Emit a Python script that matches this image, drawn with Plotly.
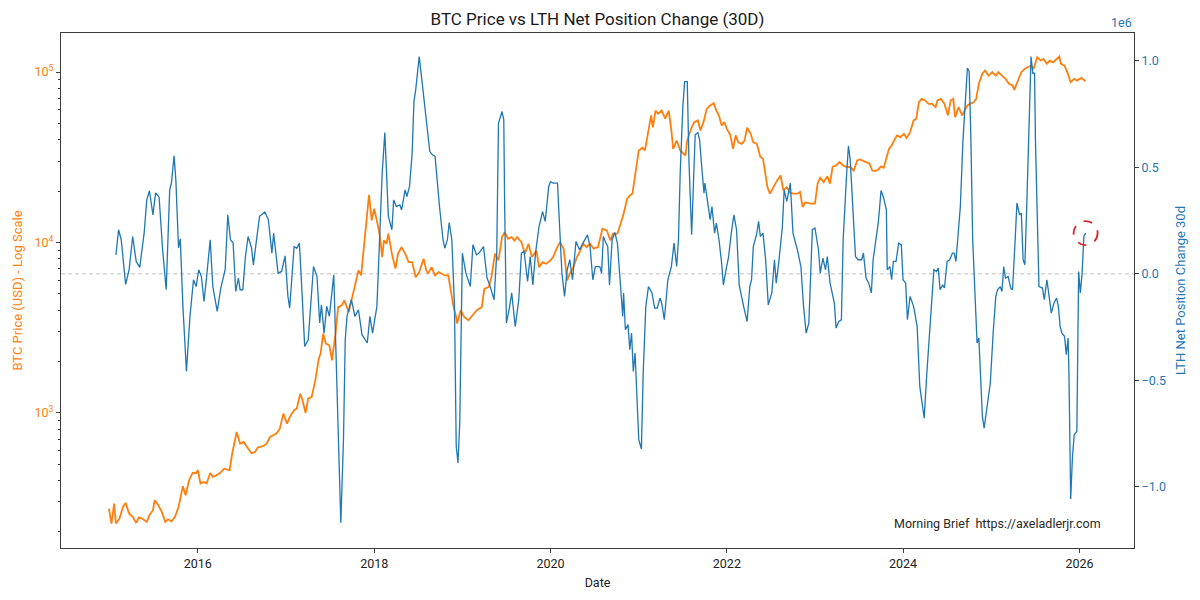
import plotly.graph_objects as go
import pandas as pd

# BTC price (USD); dates as decimal years
btc_years = [
    2014.99, 2015.02, 2015.05, 2015.07, 2015.11, 2015.15, 2015.18, 2015.22, 2015.26, 2015.30,
    2015.33, 2015.37, 2015.42, 2015.45, 2015.49, 2015.51, 2015.55, 2015.59, 2015.63, 2015.66,
    2015.70, 2015.74, 2015.78, 2015.81, 2015.83, 2015.86, 2015.90, 2015.94, 2015.98, 2016.00,
    2016.03, 2016.07, 2016.10, 2016.14, 2016.17, 2016.21, 2016.25, 2016.30, 2016.34, 2016.36,
    2016.39, 2016.44, 2016.48, 2016.52, 2016.57, 2016.61, 2016.65, 2016.68, 2016.74, 2016.78,
    2016.82, 2016.85, 2016.89, 2016.93, 2016.97, 2017.01, 2017.04, 2017.09, 2017.12, 2017.16,
    2017.18, 2017.22, 2017.25, 2017.29, 2017.33, 2017.37, 2017.39, 2017.42, 2017.45, 2017.49,
    2017.52, 2017.56, 2017.59, 2017.63, 2017.66, 2017.71, 2017.74, 2017.78, 2017.82, 2017.85,
    2017.88, 2017.91, 2017.94, 2017.97, 2018.00, 2018.04, 2018.06, 2018.09, 2018.11, 2018.14,
    2018.16, 2018.20, 2018.24, 2018.27, 2018.31, 2018.35, 2018.39, 2018.43, 2018.47, 2018.51,
    2018.56, 2018.59, 2018.61, 2018.65, 2018.69, 2018.73, 2018.77, 2018.80, 2018.84, 2018.87,
    2018.90, 2018.93, 2018.94, 2018.98, 2019.02, 2019.07, 2019.11, 2019.16, 2019.22, 2019.25,
    2019.30, 2019.33, 2019.37, 2019.41, 2019.45, 2019.48, 2019.52, 2019.56, 2019.59, 2019.62,
    2019.67, 2019.71, 2019.75, 2019.79, 2019.84, 2019.87, 2019.91, 2019.95, 2020.00, 2020.03,
    2020.07, 2020.11, 2020.15, 2020.19, 2020.22, 2020.26, 2020.30, 2020.34, 2020.37, 2020.41,
    2020.45, 2020.49, 2020.54, 2020.59, 2020.64, 2020.68, 2020.71, 2020.76, 2020.79, 2020.83,
    2020.87, 2020.90, 2020.93, 2020.96, 2021.00, 2021.04, 2021.07, 2021.11, 2021.14, 2021.16,
    2021.19, 2021.22, 2021.26, 2021.30, 2021.34, 2021.37, 2021.39, 2021.43, 2021.47, 2021.53,
    2021.55, 2021.60, 2021.63, 2021.67, 2021.70, 2021.74, 2021.77, 2021.81, 2021.85, 2021.88,
    2021.91, 2021.94, 2021.97, 2022.00, 2022.04, 2022.07, 2022.10, 2022.13, 2022.17, 2022.20,
    2022.23, 2022.27, 2022.30, 2022.34, 2022.38, 2022.41, 2022.44, 2022.46, 2022.49, 2022.53,
    2022.57, 2022.61, 2022.64, 2022.68, 2022.72, 2022.76, 2022.80, 2022.83, 2022.86, 2022.89,
    2022.95, 2023.00, 2023.03, 2023.06, 2023.10, 2023.14, 2023.17, 2023.20, 2023.24, 2023.28,
    2023.32, 2023.36, 2023.40, 2023.44, 2023.48, 2023.51, 2023.57, 2023.62, 2023.65, 2023.68,
    2023.72, 2023.75, 2023.78, 2023.81, 2023.84, 2023.87, 2023.90, 2023.93, 2023.97, 2024.01,
    2024.04, 2024.08, 2024.12, 2024.15, 2024.18, 2024.21, 2024.25, 2024.29, 2024.33, 2024.37,
    2024.39, 2024.43, 2024.47, 2024.51, 2024.54, 2024.57, 2024.59, 2024.63, 2024.67, 2024.73,
    2024.76, 2024.80, 2024.83, 2024.86, 2024.90, 2024.93, 2024.97, 2025.01, 2025.05, 2025.08,
    2025.12, 2025.16, 2025.20, 2025.24, 2025.26, 2025.30, 2025.34, 2025.38, 2025.41, 2025.45,
    2025.48, 2025.52, 2025.56, 2025.59, 2025.63, 2025.66, 2025.70, 2025.74, 2025.77, 2025.79,
    2025.83, 2025.86, 2025.90, 2025.94, 2025.97, 2026.02, 2026.07,
]
btc_price = [
    274, 224, 293, 224, 239, 280, 296, 256, 245, 226,
    243, 239, 229, 251, 268, 307, 287, 262, 229, 237,
    231, 245, 280, 336, 371, 328, 402, 444, 443, 460,
    385, 393, 385, 443, 421, 430, 443, 471, 465, 460,
    577, 771, 659, 674, 617, 577, 590, 626, 637, 659,
    721, 738, 755, 807, 989, 864, 944, 1035, 1058, 1295,
    1211, 998, 1211, 1240, 1550, 2078, 2225, 2913, 2545, 2490,
    2030, 2913, 4170, 4270, 4570, 3900, 4570, 5470, 6850, 6400,
    9380, 14070, 19040, 13460, 15770, 12580, 11250, 8200, 10270, 9830,
    11250, 8590, 7020, 8590, 9380, 8590, 7660, 7660, 6250, 6700,
    8020, 6850, 6560, 7160, 6400, 6700, 6560, 6400, 6400, 5000,
    4170, 3650, 3340, 3990, 3650, 3490, 3730, 3990, 4170, 5350,
    5470, 6250, 8590, 7840, 10740, 11490, 10510, 10740, 10270, 10740,
    10040, 8590, 9830, 8200, 8980, 7160, 7660, 7500, 7840, 8200,
    9190, 10040, 9190, 5990, 6560, 7160, 8200, 8980, 9830, 9380,
    9830, 9190, 9380, 12030, 11760, 10270, 11250, 11250, 12580, 14740,
    18030, 18870, 19320, 25290, 34660, 35920, 34660, 45400, 55600, 47400,
    59400, 56900, 59400, 53200, 59400, 45400, 35400, 39600, 34660, 32370,
    39600, 47400, 50800, 52000, 45400, 52000, 60800, 63700, 65600, 59400,
    55600, 48500, 50800, 46400, 42500, 35400, 42500, 38700, 37900, 39600,
    47100, 43400, 38700, 37900, 31700, 31000, 25290, 21100, 19320, 21100,
    23100, 24700, 20200, 21100, 19500, 19320, 19320, 19770, 16100, 17200,
    16870, 16870, 22100, 24000, 22600, 24400, 22100, 27700, 28300, 29600,
    28300, 27700, 27700, 26400, 30300, 30700, 29900, 29000, 26400, 26200,
    26800, 27900, 27400, 31000, 35400, 37100, 39600, 42500, 41500, 43400,
    41000, 44400, 52000, 53200, 66500, 69600, 68100, 65000, 65000, 62200,
    68100, 69600, 65000, 55600, 68100, 69600, 54300, 62200, 55600, 63700,
    65000, 66500, 69600, 85300, 97800, 102000, 95300, 99800, 95300, 99800,
    95300, 91200, 85300, 83400, 78600, 89100, 99800, 104500, 106700, 109100,
    104500, 122200, 116700, 119400, 111700, 116700, 114000, 119400, 123300, 111700,
    109100, 99800, 87100, 91200, 89100, 92400, 88300,
]

# LTH net position change, 30d (millions of BTC)
lth_years = [
    2015.07, 2015.10, 2015.13, 2015.18, 2015.22, 2015.26, 2015.30, 2015.34, 2015.39, 2015.42,
    2015.45, 2015.49, 2015.52, 2015.56, 2015.60, 2015.64, 2015.68, 2015.70, 2015.73, 2015.75,
    2015.78, 2015.80, 2015.83, 2015.87, 2015.91, 2015.95, 2015.98, 2016.01, 2016.04, 2016.07,
    2016.10, 2016.14, 2016.17, 2016.22, 2016.26, 2016.31, 2016.34, 2016.37, 2016.40, 2016.43,
    2016.46, 2016.48, 2016.51, 2016.54, 2016.57, 2016.61, 2016.63, 2016.67, 2016.70, 2016.76,
    2016.80, 2016.84, 2016.86, 2016.91, 2016.95, 2016.99, 2017.02, 2017.04, 2017.09, 2017.12,
    2017.15, 2017.18, 2017.21, 2017.25, 2017.31, 2017.35, 2017.38, 2017.40, 2017.43, 2017.46,
    2017.49, 2017.54, 2017.57, 2017.60, 2017.62, 2017.65, 2017.67, 2017.69, 2017.74, 2017.78,
    2017.82, 2017.86, 2017.92, 2017.95, 2017.98, 2018.03, 2018.06, 2018.09, 2018.12, 2018.14,
    2018.16, 2018.20, 2018.22, 2018.25, 2018.29, 2018.31, 2018.35, 2018.37, 2018.40, 2018.43,
    2018.45, 2018.47, 2018.51, 2018.54, 2018.59, 2018.63, 2018.66, 2018.69, 2018.74, 2018.78,
    2018.80, 2018.83, 2018.85, 2018.88, 2018.91, 2018.93, 2018.95, 2018.97, 2019.00, 2019.04,
    2019.09, 2019.12, 2019.16, 2019.19, 2019.24, 2019.28, 2019.31, 2019.36, 2019.39, 2019.41,
    2019.45, 2019.47, 2019.48, 2019.50, 2019.53, 2019.56, 2019.60, 2019.64, 2019.67, 2019.70,
    2019.74, 2019.77, 2019.80, 2019.83, 2019.87, 2019.91, 2019.94, 2019.98, 2020.00, 2020.03,
    2020.08, 2020.11, 2020.13, 2020.16, 2020.19, 2020.22, 2020.25, 2020.29, 2020.33, 2020.37,
    2020.42, 2020.45, 2020.48, 2020.51, 2020.56, 2020.58, 2020.60, 2020.63, 2020.65, 2020.67,
    2020.70, 2020.73, 2020.76, 2020.79, 2020.82, 2020.83, 2020.85, 2020.88, 2020.90, 2020.92,
    2020.94, 2020.96, 2020.99, 2021.00, 2021.03, 2021.05, 2021.08, 2021.11, 2021.15, 2021.18,
    2021.21, 2021.24, 2021.26, 2021.29, 2021.33, 2021.37, 2021.40, 2021.43, 2021.45, 2021.47,
    2021.50, 2021.52, 2021.55, 2021.57, 2021.60, 2021.62, 2021.64, 2021.67, 2021.69, 2021.72,
    2021.74, 2021.75, 2021.78, 2021.81, 2021.83, 2021.86, 2021.88, 2021.91, 2021.94, 2021.96,
    2021.99, 2022.02, 2022.05, 2022.08, 2022.11, 2022.14, 2022.19, 2022.23, 2022.26, 2022.28,
    2022.30, 2022.34, 2022.36, 2022.38, 2022.41, 2022.44, 2022.47, 2022.51, 2022.54, 2022.56,
    2022.59, 2022.63, 2022.65, 2022.68, 2022.72, 2022.75, 2022.80, 2022.84, 2022.87, 2022.90,
    2022.93, 2022.97, 2023.00, 2023.04, 2023.06, 2023.09, 2023.12, 2023.14, 2023.17, 2023.22,
    2023.24, 2023.27, 2023.30, 2023.32, 2023.36, 2023.38, 2023.40, 2023.43, 2023.46, 2023.49,
    2023.53, 2023.55, 2023.58, 2023.61, 2023.64, 2023.66, 2023.68, 2023.72, 2023.75, 2023.78,
    2023.81, 2023.82, 2023.85, 2023.87, 2023.89, 2023.92, 2023.95, 2023.98, 2024.00, 2024.03,
    2024.05, 2024.08, 2024.12, 2024.16, 2024.19, 2024.21, 2024.24, 2024.27, 2024.30, 2024.33,
    2024.35, 2024.38, 2024.40, 2024.42, 2024.45, 2024.47, 2024.50, 2024.53, 2024.56, 2024.58,
    2024.60, 2024.62, 2024.65, 2024.68, 2024.71, 2024.73, 2024.75, 2024.77, 2024.79, 2024.82,
    2024.84, 2024.86, 2024.88, 2024.90, 2024.92, 2024.95, 2024.99, 2025.02, 2025.05, 2025.07,
    2025.10, 2025.12, 2025.14, 2025.16, 2025.19, 2025.22, 2025.24, 2025.27, 2025.29, 2025.32,
    2025.34, 2025.36, 2025.38, 2025.40, 2025.41, 2025.44, 2025.45, 2025.47, 2025.49, 2025.50,
    2025.52, 2025.54, 2025.58, 2025.60, 2025.63, 2025.65, 2025.68, 2025.71, 2025.74, 2025.76,
    2025.78, 2025.80, 2025.83, 2025.85, 2025.87, 2025.88, 2025.89, 2025.90, 2025.92, 2025.94,
    2025.97, 2025.98, 2025.99, 2026.01, 2026.03, 2026.05, 2026.07,
]
lth_change_m = [
    0.089, 0.207, 0.16, -0.05, 0.02, 0.175, 0.058, 0.03, 0.19, 0.347,
    0.39, 0.277, 0.38, 0.36, 0.113, -0.075, 0.394, 0.427, 0.554, 0.44,
    0.122, 0.164, -0.153, -0.459, -0.2, -0.028, -0.06, 0.019, -0.012, -0.13,
    -0.012, 0.16, -0.06, -0.177, -0.067, 0.019, 0.277, 0.16, 0.146, -0.083,
    -0.02, -0.075, -0.075, 0.081, 0.175, 0.12, 0.042, 0.16, 0.27, 0.29,
    0.254, 0.097, 0.19, 0.003, 0.011, 0.084, -0.106, -0.161, 0.128, 0.12,
    0.144, -0.09, -0.341, -0.31, 0.034, -0.013, -0.231, -0.146, -0.279, -0.153,
    -0.2, -0.005, -0.466, -0.936, -1.17, -0.78, -0.31, -0.2, -0.122, -0.2,
    -0.169, -0.286, -0.325, -0.2, -0.279, -0.153, 0.16, 0.473, 0.663, 0.473,
    0.27, 0.207, 0.347, 0.316, 0.324, 0.3, 0.394, 0.363, 0.41, 0.567,
    0.809, 0.864, 1.02, 0.911, 0.739, 0.574, 0.559, 0.551, 0.316, 0.16,
    0.12, 0.16, 0.241, 0.16, -0.153, -0.811, -0.889, -0.7, 0.097, 0.003,
    -0.06, 0.136, 0.089, 0.097, 0.128, -0.02, -0.052, -0.122, 0.097, 0.708,
    0.762, 0.723, 0.316, -0.231, -0.169, -0.09, -0.247, -0.122, 0.097, 0.105,
    -0.036, 0.081, -0.052, 0.097, 0.222, 0.292, 0.246, 0.41, 0.433, 0.426,
    0.426, 0.144, 0.003, -0.106, 0.019, 0.066, -0.028, 0.152, 0.113, 0.144,
    0.183, 0.128, -0.028, 0.034, 0.034, 0.003, 0.175, 0.144, 0.128, -0.052,
    0.16, 0.194, 0.144, -0.028, -0.2, -0.09, -0.263, -0.239, -0.357, -0.279,
    -0.459, -0.372, -0.623, -0.779, -0.823, -0.466, -0.153, -0.06, -0.09, -0.161,
    -0.161, -0.114, -0.138, -0.216, -0.028, 0.034, 0.144, 0.034, 0.16, 0.473,
    0.785, 0.903, 0.903, 0.52, 0.183, 0.394, 0.653, 0.663, 0.629, 0.473,
    0.379, 0.426, 0.332, 0.254, 0.316, 0.191, 0.238, 0.16, 0.05, -0.052,
    0.019, 0.081, 0.191, 0.277, 0.207, -0.052, -0.153, -0.224, -0.06, -0.028,
    0.128, 0.191, 0.246, 0.175, 0.191, 0.066, -0.146, -0.09, 0.066, -0.044,
    0.058, 0.222, 0.394, 0.34, 0.426, 0.191, 0.113, 0.034, -0.153, -0.279,
    -0.231, 0.207, 0.215, 0.113, 0.003, 0.074, 0.019, 0.081, -0.04, -0.138,
    -0.255, -0.224, -0.216, 0.16, 0.473, 0.601, 0.535, 0.316, 0.081, 0.066,
    0.066, 0.097, -0.02, -0.044, -0.09, 0.066, 0.128, 0.246, 0.391, 0.355,
    0.3, 0.019, 0.034, -0.028, 0.058, 0.058, 0.144, 0.136, -0.028, -0.044,
    -0.216, -0.106, -0.153, -0.247, -0.529, -0.592, -0.678, -0.466, -0.279, -0.09,
    0.019, 0.011, 0.027, -0.075, -0.052, -0.067, 0.058, 0.066, 0.097, 0.097,
    0.058, 0.16, 0.316, 0.629, 0.864, 0.966, 0.95, 0.629, 0.16, -0.153,
    -0.325, -0.302, -0.466, -0.67, -0.725, -0.623, -0.513, -0.279, -0.106, -0.075,
    -0.06, -0.083, 0.034, -0.02, -0.013, -0.067, -0.075, 0.16, 0.332, 0.277,
    0.285, 0.066, 0.042, 0.3, 0.473, 0.864, 1.02, 0.942, 0.942, 0.629,
    0.316, -0.06, -0.067, -0.122, -0.028, -0.099, -0.185, -0.138, -0.114, -0.153,
    -0.247, -0.279, -0.294, -0.38, -0.302, -0.466, -0.779, -1.058, -0.858, -0.756,
    -0.74, -0.31, 0.011, -0.09, 0.003, 0.175, 0.191,
]

ORANGE = "#ff7f0e"
BLUE = "#1f77b4"
SPINE = "#3c3c3c"
FONT = "Roboto"


def to_dates(years):
    out = []
    for y in years:
        base = pd.Timestamp(int(y), 1, 1)
        out.append(base + pd.Timedelta(days=(y - int(y)) * 365.25))
    return out


btc_dates = to_dates(btc_years)
lth_dates = to_dates(lth_years)
lth_change = [v * 1e6 for v in lth_change_m]

fig = go.Figure()
fig.add_trace(go.Scatter(x=btc_dates, y=btc_price, mode="lines", name="BTC Price",
                         line=dict(color=ORANGE, width=1.8), yaxis="y"))
fig.add_trace(go.Scatter(x=lth_dates, y=lth_change, mode="lines", name="LTH Net Position Change 30d",
                         line=dict(color=BLUE, width=1.3), yaxis="y2"))

# zero line of the right axis
fig.add_shape(type="line", xref="paper", x0=0, x1=1, yref="y2", y0=0, y1=0,
              line=dict(color="#c4c4c4", width=1, dash="4px,3px"), layer="below")

# red dashed ring around the latest reading
fig.add_shape(type="circle", xref="x", yref="y2",
              xsizemode="pixel", ysizemode="pixel",
              xanchor=lth_dates[-1], yanchor=lth_change[-1],
              x0=-12, x1=12, y0=-12, y1=12,
              line=dict(color="#d62728", width=1.8, dash="dash"))

year_ticks = [2016, 2018, 2020, 2022, 2024, 2026]
minor_log = [m * 10 ** e for e in (2, 3, 4, 5) for m in range(2, 10)]

fig.update_layout(
    width=1200, height=600,
    paper_bgcolor="white", plot_bgcolor="white",
    showlegend=False,
    margin=dict(l=61, r=66, t=33, b=52),
    font=dict(family=FONT, size=12, color="#222"),
    title=dict(text="BTC Price vs LTH Net Position Change (30D)", x=0.5, xref="paper",
               y=0.968, yanchor="middle", font=dict(size=17, color="#1a1a1a")),
    xaxis=dict(
        type="date",
        range=[pd.Timestamp("2014-06-13"), pd.Timestamp("2026-08-15")],
        tickvals=[pd.Timestamp(y, 1, 1) for y in year_ticks],
        ticktext=[str(y) for y in year_ticks],
        showgrid=False, zeroline=False,
        showline=True, mirror=True, linecolor=SPINE, linewidth=1,
        ticks="outside", ticklen=4, tickcolor=SPINE,
        tickfont=dict(size=12.5, color="#222"),
        title=dict(text="Date", font=dict(size=12.5, color="#222"), standoff=8),
    ),
    yaxis=dict(
        type="log",
        range=[2.2065, 5.229],
        tickvals=[1e3, 1e4, 1e5],
        ticktext=["10<sup>3</sup>", "10<sup>4</sup>", "10<sup>5</sup>"],
        showgrid=False, zeroline=False,
        showline=True, linecolor=SPINE, linewidth=1,
        ticks="outside", ticklen=4, tickcolor=SPINE,
        minor=dict(tickvals=minor_log, ticks="outside", ticklen=2, tickcolor=SPINE, showgrid=False),
        tickfont=dict(size=12.5, color=ORANGE),
        title=dict(text="BTC Price (USD) - Log Scale", font=dict(size=13, color=ORANGE), standoff=8),
    ),
    yaxis2=dict(
        overlaying="y", side="right",
        range=[-1.288e6, 1.131e6],
        tickvals=[-1e6, -5e5, 0, 5e5, 1e6],
        ticktext=["\u22121.0", "\u22120.5", "0.0", "0.5", "1.0"],
        showgrid=False, zeroline=False,
        showline=True, linecolor=SPINE, linewidth=1,
        ticks="outside", ticklen=4, tickcolor=SPINE,
        tickfont=dict(size=12.5, color=BLUE),
        title=dict(text="LTH Net Position Change 30d", font=dict(size=13, color=BLUE), standoff=10),
    ),
    annotations=[
        dict(text="1e6", xref="paper", yref="paper", x=1, y=1, xanchor="right", yanchor="bottom",
             yshift=1, showarrow=False, font=dict(size=12.5, color=BLUE)),
        dict(text="Morning Brief\u00a0\u00a0https://axeladlerjr.com", xref="paper", yref="paper",
             x=0.971, y=0.0485, xanchor="right", yanchor="middle", showarrow=False,
             font=dict(size=12.5, color="#2a2a2a")),
    ],
)

# drop the default page margin so the figure sits at the window's top-left corner
fig.write_html("out.html", config={"displayModeBar": False},
               post_script="document.body.style.margin = '0';")
